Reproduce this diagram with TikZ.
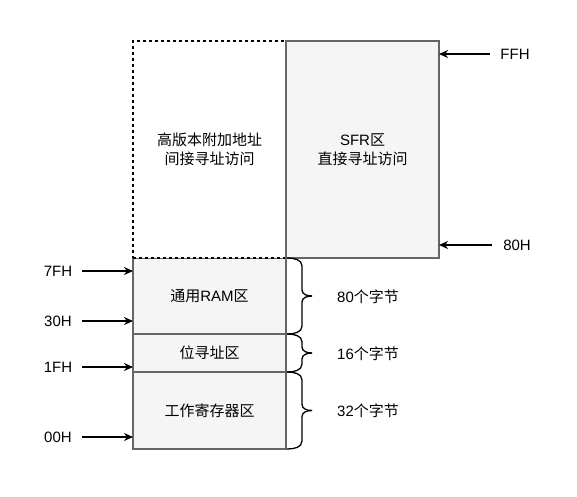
\documentclass[tikz,border=0pt]{standalone}
\usepackage{fontspec}
\setmainfont{Liberation Sans}
\newfontfamily\cjk{Noto Sans CJK SC}
\usepackage{tikz}
\usetikzlibrary{arrows.meta, positioning}

\definecolor{boxfill}{HTML}{F5F5F5}
\definecolor{boxline}{HTML}{666666}

% curly bracket on the right of a memory area
\newcommand{\sizebrace}[1]{%
  \draw[brc] ([xshift=1pt]#1.north east) to[out=0,in=90] ([shift={(16,8)}]#1.north east)
    -- ([shift={(16,-6)}]#1.east) to[out=-90,in=180] ([shift={(26,0)}]#1.east);
  \draw[brc] ([xshift=1pt]#1.south east) to[out=0,in=-90] ([shift={(16,-8)}]#1.south east)
    -- ([shift={(16,6)}]#1.east) to[out=90,in=180] ([shift={(26,0)}]#1.east);}

\begin{document}
\begin{tikzpicture}[
        x=1pt, y=-1pt,
        node distance=0pt,
        txt/.style={font=\fontsize{15}{19}\selectfont},
        area/.style={txt, draw=boxline, fill=boxfill, line width=1.3pt, minimum width=153pt, inner sep=0pt, outer sep=0pt, align=center},
        hiarea/.style={area, draw=black, fill=white, dash pattern=on 3pt off 3pt},
        addr/.style={txt, inner sep=0pt, minimum width=48pt},
        raddr/.style={addr, minimum width=50pt},
        size/.style={txt, inner sep=0pt},
        arr/.style={-{Stealth[length=9pt, width=8pt]}, line width=1.5pt},
        brc/.style={line width=1.3pt}
      ]
      \useasboundingbox (0,0) rectangle (577,496);
      \node[area, minimum height=76pt, anchor=north west] (ram) at (133,258) {{\cjk 通用}RAM{\cjk 区}};
      \node[area, minimum height=38pt, below=of ram]  (bit)  {\cjk 位寻址区};
      \node[area, minimum height=77pt, below=of bit]  (reg)  {\cjk 工作寄存器区};
      \node[hiarea, minimum height=217pt, above=of ram] (hi) {\cjk 高版本附加地址\\\cjk 间接寻址访问};
      \node[area, minimum height=217pt, right=of hi]   (sfr)  {SFR{\cjk 区}\\\cjk 直接寻址访问};

      % addresses
      \node[raddr] (lff) at (515,54)  {FFH};
      \node[raddr] (l80) at (517,245) {80H};
      \node[addr]  (l7f) at (58,271)  {7FH};
      \node[addr]  (l30) at (58,321)  {30H};
      \node[addr]  (l1f) at (58,367)  {1FH};
      \node[addr]  (l00) at (58,437)  {00H};
      \draw[arr] (lff.west) -- (lff -| sfr.east);
      \draw[arr] (l80.west) -- (l80 -| sfr.east);
      \draw[arr] (l7f.east) -- (l7f -| ram.west);
      \draw[arr] (l30.east) -- (l30 -| ram.west);
      \draw[arr] (l1f.east) -- (l1f -| ram.west);
      \draw[arr] (l00.east) -- (l00 -| ram.west);

      % sizes
      \sizebrace{ram}
      \sizebrace{bit}
      \sizebrace{reg}
      \node[size] (s1) at (368,297) {80{\cjk 个字节}};
      \node[size] (s2) at (368,354) {16{\cjk 个字节}};
      \node[size] (s3) at (368,411) {32{\cjk 个字节}};
    \end{tikzpicture}
\end{document}
